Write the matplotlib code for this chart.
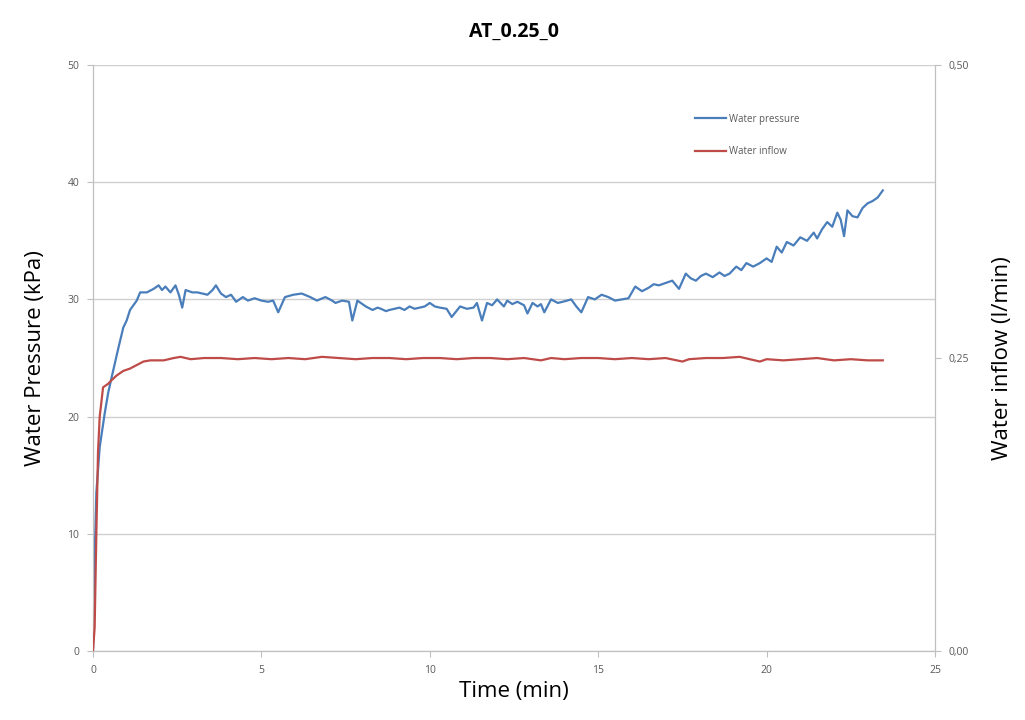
import matplotlib
matplotlib.use("Agg")
import matplotlib.pyplot as plt

plt.rcParams['font.family'] = ['Open Sans', 'DejaVu Sans']

# Water pressure (kPa)
time_p = [0, 0.06, 0.1, 0.2, 0.35, 0.45, 0.55, 0.75, 0.9, 1.0,
          1.1, 1.2, 1.3, 1.4, 1.6, 1.8, 1.95, 2.05, 2.15, 2.3,
          2.45, 2.55, 2.65, 2.75, 2.95, 3.1, 3.25, 3.4, 3.55, 3.65,
          3.8, 3.95, 4.1, 4.25, 4.45, 4.6, 4.8, 5.0, 5.2, 5.35,
          5.5, 5.7, 5.95, 6.2, 6.45, 6.65, 6.9, 7.1, 7.2, 7.4,
          7.6, 7.7, 7.85, 8.1, 8.3, 8.45, 8.55, 8.7, 8.8, 8.95,
          9.1, 9.25, 9.4, 9.55, 9.7, 9.85, 10.0, 10.15, 10.3, 10.5,
          10.65, 10.9, 11.1, 11.3, 11.4, 11.55, 11.7, 11.85, 12.0, 12.2,
          12.3, 12.45, 12.6, 12.8, 12.9, 13.05, 13.2, 13.3, 13.4, 13.6,
          13.8, 13.95, 14.2, 14.35, 14.5, 14.7, 14.9, 15.1, 15.3, 15.5,
          15.7, 15.9, 16.1, 16.3, 16.5, 16.65, 16.8, 17.0, 17.2, 17.4,
          17.6, 17.75, 17.9, 18.05, 18.2, 18.4, 18.6, 18.75, 18.9, 19.1,
          19.25, 19.4, 19.6, 19.8, 20.0, 20.15, 20.3, 20.45, 20.6, 20.8,
          21.0, 21.2, 21.4, 21.5, 21.65, 21.8, 21.95, 22.1, 22.2, 22.3,
          22.4, 22.55, 22.7, 22.85, 23.0, 23.15, 23.3, 23.45]
pressure = [0, 9.0, 13.5, 17.4, 20.3, 22.0, 23.3, 25.8, 27.6, 28.2,
            29.1, 29.5, 29.9, 30.6, 30.6, 30.9, 31.2, 30.8, 31.1, 30.6,
            31.2, 30.4, 29.3, 30.8, 30.6, 30.6, 30.5, 30.4, 30.8, 31.2,
            30.5, 30.2, 30.4, 29.8, 30.2, 29.9, 30.1, 29.9, 29.8, 29.9,
            28.9, 30.2, 30.4, 30.5, 30.2, 29.9, 30.2, 29.9, 29.7, 29.9,
            29.8, 28.2, 29.9, 29.4, 29.1, 29.3, 29.2, 29.0, 29.1, 29.2,
            29.3, 29.1, 29.4, 29.2, 29.3, 29.4, 29.7, 29.4, 29.3, 29.2,
            28.5, 29.4, 29.2, 29.3, 29.7, 28.2, 29.7, 29.5, 30.0, 29.4,
            29.9, 29.6, 29.8, 29.5, 28.8, 29.7, 29.4, 29.6, 28.9, 30.0,
            29.7, 29.8, 30.0, 29.4, 28.9, 30.2, 30.0, 30.4, 30.2, 29.9,
            30.0, 30.1, 31.1, 30.7, 31.0, 31.3, 31.2, 31.4, 31.6, 30.9,
            32.2, 31.8, 31.6, 32.0, 32.2, 31.9, 32.3, 32.0, 32.2, 32.8,
            32.5, 33.1, 32.8, 33.1, 33.5, 33.2, 34.5, 34.0, 34.9, 34.6,
            35.3, 35.0, 35.7, 35.2, 36.0, 36.6, 36.2, 37.4, 36.8, 35.4,
            37.6, 37.1, 37.0, 37.8, 38.2, 38.4, 38.7, 39.3]

# Water inflow (l/min)
time_q = [0, 0.05, 0.1, 0.15, 0.2, 0.3, 0.45, 0.55, 0.7, 0.9,
          1.1, 1.3, 1.5, 1.7, 2.1, 2.4, 2.6, 2.9, 3.3, 3.8,
          4.3, 4.8, 5.3, 5.8, 6.3, 6.8, 7.3, 7.8, 8.3, 8.8,
          9.3, 9.8, 10.3, 10.8, 11.3, 11.8, 12.3, 12.8, 13.3, 13.6,
          14.0, 14.5, 15.0, 15.5, 16.0, 16.5, 17.0, 17.5, 17.7, 18.2,
          18.7, 19.2, 19.8, 20.0, 20.5, 21.0, 21.5, 22.0, 22.5, 23.0,
          23.45]
inflow = [0, 0.02, 0.10, 0.17, 0.20, 0.225, 0.228, 0.231, 0.235, 0.239,
          0.241, 0.244, 0.247, 0.248, 0.248, 0.250, 0.251, 0.249, 0.250, 0.250,
          0.249, 0.250, 0.249, 0.250, 0.249, 0.251, 0.250, 0.249, 0.250, 0.250,
          0.249, 0.250, 0.250, 0.249, 0.250, 0.250, 0.249, 0.250, 0.248, 0.250,
          0.249, 0.250, 0.250, 0.249, 0.250, 0.249, 0.250, 0.247, 0.249, 0.250,
          0.250, 0.251, 0.247, 0.249, 0.248, 0.249, 0.250, 0.248, 0.249, 0.248,
          0.248]

x_ticks = [0, 5, 10, 15, 20, 25]
p_ticks = [0, 10, 20, 30, 40, 50]
q_ticks = [0, 0.25, 0.5]
q_labels = ['0,00', '0,25', '0,50']

blue = '#4a7ebb'
red = '#be4b48'
axis_grey = '#bfbfbf'
tick_grey = '#595959'

fig = plt.figure(figsize=(10.25, 7.2), dpi=100)
ax = fig.add_axes([0.0907, 0.0958, 0.8215, 0.8139])
ax2 = ax.twinx()

lp, = ax.plot(time_p, pressure, color=blue, lw=1.6, label='Water pressure', zorder=3)
lq, = ax2.plot(time_q, inflow, color=red, lw=1.6, label='Water inflow', zorder=3)

ax.set_xlim(0, 25)
ax.set_ylim(0, 50)
ax2.set_ylim(0, 0.5)
ax.set_xticks(x_ticks)
ax.set_yticks(p_ticks)
ax2.set_yticks(q_ticks)
ax2.set_yticklabels(q_labels)

ax.grid(axis='y', color='#d0d0d0', lw=1.0)
ax.set_axisbelow(True)
for a in (ax, ax2):
    a.spines['top'].set_visible(False)
    for s in ('left', 'right', 'bottom'):
        a.spines[s].set_color(axis_grey)
    a.tick_params(labelsize=7.5, colors=axis_grey, labelcolor=tick_grey, length=4, pad=6)

ax.set_title('AT_0.25_0', fontsize=14, fontweight='bold', pad=20)
ax.set_xlabel('Time (min)', fontsize=16, labelpad=4)
ax.set_ylabel('Water Pressure (kPa)', fontsize=16, labelpad=15)
ax2.set_ylabel('Water inflow (l/min)', fontsize=16, labelpad=16)

leg = ax.legend(handles=[lp, lq], loc='upper left', bbox_to_anchor=(0.705, 0.932),
                fontsize=7, frameon=False, handlelength=3.2, handletextpad=0.3,
                labelspacing=2.2)
for t in leg.get_texts():
    t.set_color(tick_grey)

fig.savefig('out.png', dpi=100)
